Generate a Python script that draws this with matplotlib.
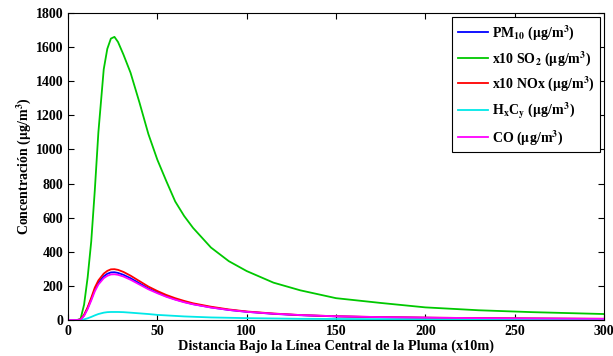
import matplotlib
matplotlib.use('Agg')
import matplotlib.pyplot as plt

plt.rcParams['font.family'] = ['Liberation Serif', 'DejaVu Serif']
plt.rcParams['font.weight'] = 'bold'
plt.rcParams['mathtext.fontset'] = 'stix'
plt.rcParams['mathtext.default'] = 'bf'

# distance along plume centre line (x10 m)
dist = [0, 5, 7, 9, 11, 13, 15, 17, 20, 22, 24, 26, 28, 31, 35, 40, 45, 50,
        55, 60, 65, 70, 80, 90, 100, 115, 130, 150, 175, 200, 230, 260, 300]

so2 = [0, 0, 5, 90, 250, 460, 760, 1100, 1470, 1590, 1650, 1660, 1630, 1557,
       1450, 1275, 1090, 940, 815, 695, 610, 540, 425, 345, 287, 219, 174,
       128, 100, 74, 57, 46, 35]
nox = [0, 0, 3, 30, 75, 130, 190, 232, 272, 288, 297, 298, 294, 282, 260,
       228, 196, 170, 147, 128, 112, 98, 78, 62, 50, 38, 29, 22, 17, 14, 11,
       9, 7]
pm10 = [0, 0, 3, 28, 70, 122, 178, 218, 256, 271, 279, 280, 276, 265, 245,
        215, 185, 161, 139, 121, 106, 93, 74, 59, 48, 36, 28, 21, 16, 13, 10,
        8, 6]
co = [0, 0, 2, 24, 64, 114, 168, 208, 245, 259, 267, 268, 265, 255, 236,
      208, 180, 157, 136, 119, 104, 92, 73, 59, 48, 37, 29, 22, 17, 14, 11,
      9, 7]
hxcy = [0, 0, 0, 4, 10, 18, 27, 35, 43, 46, 47, 47, 47, 46, 43, 39, 35, 30,
        27, 24, 21, 19, 15, 13, 11, 9, 7, 6, 5, 4, 3, 3, 2]

labels = ['PM$_{10}$ ($\\mathrm{\\mu}$g/m$^3$)',
          'x10 SO$_2$ ($\\mathrm{\\mu}$g/m$^3$)',
          'x10 NOx ($\\mathrm{\\mu}$g/m$^3$)',
          'H$_x$C$_y$ ($\\mathrm{\\mu}$g/m$^3$)',
          'CO ($\\mathrm{\\mu}$g/m$^3$)']
colors = ['#0000ff', '#00c800', '#ff0000', '#00e8e8', '#ff00ff']

fig = plt.figure(figsize=(6.13, 3.56), dpi=100)
ax = fig.add_axes([68/613, 36/356, 536/613, 307/356])

series = [pm10, so2, nox, hxcy, co]
for vals, lab, col in zip(series, labels, colors):
    ax.plot(dist, vals, color=col, linewidth=1.3, label=lab)

ax.set_xlim(0, 300)
ax.set_ylim(0, 1800)
ax.set_xticks([0, 50, 100, 150, 200, 250, 300])
ax.set_yticks(range(0, 1801, 200))
ax.tick_params(direction='in', top=True, right=True, labelsize=10, length=4)
for lbl in ax.get_xticklabels() + ax.get_yticklabels():
    lbl.set_fontweight('bold')

ax.set_xlabel('Distancia Bajo la Línea Central de la Pluma (x10m)',
              fontsize=10.3, fontweight='bold', labelpad=1)
ax.set_ylabel('Concentración ($\\mathrm{\\mu}$g/m$^3$)',
              fontsize=10, fontweight='bold', labelpad=2)

leg = ax.legend(loc='upper right', fontsize=10, fancybox=False,
                framealpha=1, edgecolor='black', handlelength=2.2,
                handletextpad=0.25, borderaxespad=0.3, labelspacing=0.5)
leg.get_frame().set_linewidth(0.8)

fig.savefig('out.png', dpi=100)
